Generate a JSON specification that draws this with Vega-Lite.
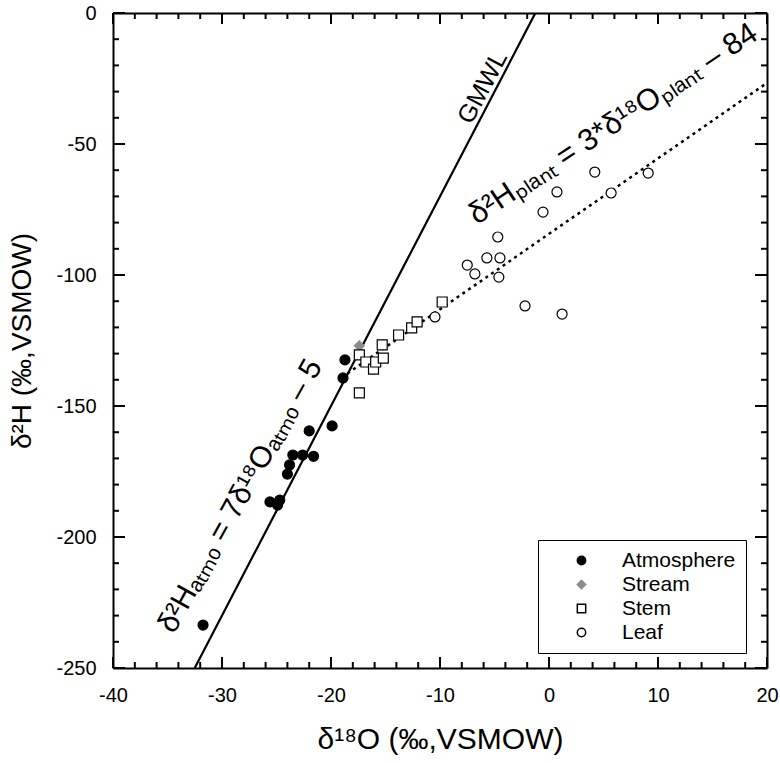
{
  "$schema": "https://vega.github.io/schema/vega-lite/v6.json",
  "width": 654,
  "height": 655,
  "autosize": "none",
  "padding": {"left": 113, "top": 13, "right": 13, "bottom": 95},
  "background": "white",
  "config": {
    "view": {"stroke": null},
    "font": "Liberation Sans",
    "axis": {
      "grid": false,
      "ticks": false,
      "domainColor": "black",
      "domainWidth": 2,
      "labelColor": "black",
      "labelFont": "Liberation Sans",
      "labelFontSize": 20,
      "labelFlush": false,
      "labelOverlap": false,
      "titleFont": "Liberation Sans",
      "titleFontSize": 28,
      "titleFontWeight": "normal",
      "titleColor": "black"
    }
  },
  "datasets": {
    "xmajor": [{"v": -40}, {"v": -30}, {"v": -20}, {"v": -10}, {"v": 0}, {"v": 10}, {"v": 20}],
    "xminor": [{"v": -38}, {"v": -36}, {"v": -34}, {"v": -32}, {"v": -28}, {"v": -26}, {"v": -24}, {"v": -22}, {"v": -18}, {"v": -16}, {"v": -14}, {"v": -12}, {"v": -8}, {"v": -6}, {"v": -4}, {"v": -2}, {"v": 2}, {"v": 4}, {"v": 6}, {"v": 8}, {"v": 12}, {"v": 14}, {"v": 16}, {"v": 18}],
    "ymajor": [{"v": -250}, {"v": -200}, {"v": -150}, {"v": -100}, {"v": -50}, {"v": 0}],
    "yminor": [{"v": -240}, {"v": -230}, {"v": -220}, {"v": -210}, {"v": -190}, {"v": -180}, {"v": -170}, {"v": -160}, {"v": -140}, {"v": -130}, {"v": -120}, {"v": -110}, {"v": -90}, {"v": -80}, {"v": -70}, {"v": -60}, {"v": -40}, {"v": -30}, {"v": -20}, {"v": -10}]
  },
  "resolve": {"axis": {"x": "independent", "y": "independent"}},
  "layer": [
    {
      "data": {"values": [{"o18": -32.5, "h2": -250}, {"o18": -1.25, "h2": 0}]},
      "mark": {"type": "line", "color": "black", "strokeWidth": 2.2, "clip": true},
      "encoding": {
        "x": {
          "field": "o18", "type": "quantitative",
          "scale": {"domain": [-40, 20], "nice": false, "zero": false},
          "axis": {
            "orient": "bottom",
            "title": "δ¹⁸O (‰,VSMOW)",
            "titleFontSize": 30,
            "titlePadding": 19,
            "values": [-40, -30, -20, -10, 0, 10, 20],
            "labelExpr": "'' + datum.value",
            "labelPadding": 17
          }
        },
        "y": {
          "field": "h2", "type": "quantitative",
          "scale": {"domain": [-250, 0], "nice": false, "zero": false},
          "axis": {
            "orient": "left",
            "title": "δ²H (‰,VSMOW)",
            "titlePadding": 19,
            "values": [-250, -200, -150, -100, -50, 0],
            "labelExpr": "'' + datum.value",
            "labelPadding": 17,
            "labelBaseline": "middle"
          }
        }
      }
    },
    {
      "data": {"values": [{"o18": -18.5, "h2": -137.6}, {"o18": 20, "h2": -26.7}]},
      "mark": {"type": "line", "color": "black", "strokeWidth": 2.5, "strokeDash": [3, 4]},
      "encoding": {
        "x": {
          "field": "o18", "type": "quantitative",
          "axis": {"orient": "top", "title": null, "labels": false, "values": [-40, 20]}
        },
        "y": {
          "field": "h2", "type": "quantitative",
          "axis": {"orient": "right", "title": null, "labels": false, "values": [-250, 0]}
        }
      }
    },
    {
      "data": {"name": "xmajor"},
      "mark": {"type": "point", "shape": "M0,-1L0,1", "size": 121, "filled": false, "color": "black", "strokeWidth": 2, "opacity": 1, "yOffset": -5.5},
      "encoding": {"x": {"field": "v", "type": "quantitative", "axis": null}, "y": {"datum": -250, "type": "quantitative", "axis": null}}
    },
    {
      "data": {"name": "xmajor"},
      "mark": {"type": "point", "shape": "M0,-1L0,1", "size": 121, "filled": false, "color": "black", "strokeWidth": 2, "opacity": 1, "yOffset": 5.5},
      "encoding": {"x": {"field": "v", "type": "quantitative", "axis": null}, "y": {"datum": 0, "type": "quantitative", "axis": null}}
    },
    {
      "data": {"name": "xminor"},
      "mark": {"type": "point", "shape": "M0,-1L0,1", "size": 36, "filled": false, "color": "black", "strokeWidth": 2, "opacity": 1, "yOffset": -3},
      "encoding": {"x": {"field": "v", "type": "quantitative", "axis": null}, "y": {"datum": -250, "type": "quantitative", "axis": null}}
    },
    {
      "data": {"name": "xminor"},
      "mark": {"type": "point", "shape": "M0,-1L0,1", "size": 36, "filled": false, "color": "black", "strokeWidth": 2, "opacity": 1, "yOffset": 3},
      "encoding": {"x": {"field": "v", "type": "quantitative", "axis": null}, "y": {"datum": 0, "type": "quantitative", "axis": null}}
    },
    {
      "data": {"name": "ymajor"},
      "mark": {"type": "point", "shape": "M-1,0L1,0", "size": 144, "filled": false, "color": "black", "strokeWidth": 2, "opacity": 1, "xOffset": 6},
      "encoding": {"y": {"field": "v", "type": "quantitative", "axis": null}, "x": {"datum": -40, "type": "quantitative", "axis": null}}
    },
    {
      "data": {"name": "ymajor"},
      "mark": {"type": "point", "shape": "M-1,0L1,0", "size": 144, "filled": false, "color": "black", "strokeWidth": 2, "opacity": 1, "xOffset": -6},
      "encoding": {"y": {"field": "v", "type": "quantitative", "axis": null}, "x": {"datum": 20, "type": "quantitative", "axis": null}}
    },
    {
      "data": {"name": "yminor"},
      "mark": {"type": "point", "shape": "M-1,0L1,0", "size": 36, "filled": false, "color": "black", "strokeWidth": 2, "opacity": 1, "xOffset": 3},
      "encoding": {"y": {"field": "v", "type": "quantitative", "axis": null}, "x": {"datum": -40, "type": "quantitative", "axis": null}}
    },
    {
      "data": {"name": "yminor"},
      "mark": {"type": "point", "shape": "M-1,0L1,0", "size": 36, "filled": false, "color": "black", "strokeWidth": 2, "opacity": 1, "xOffset": -3},
      "encoding": {"y": {"field": "v", "type": "quantitative", "axis": null}, "x": {"datum": 20, "type": "quantitative", "axis": null}}
    },
    {
      "data": {"values": [
        {"o18": -31.74, "h2": -233.6, "type": "Atmosphere"},
        {"o18": -18.72, "h2": -132.4, "type": "Atmosphere"},
        {"o18": -18.9, "h2": -139.3, "type": "Atmosphere"},
        {"o18": -22.0, "h2": -159.5, "type": "Atmosphere"},
        {"o18": -19.9, "h2": -157.6, "type": "Atmosphere"},
        {"o18": -23.5, "h2": -168.7, "type": "Atmosphere"},
        {"o18": -22.6, "h2": -168.7, "type": "Atmosphere"},
        {"o18": -21.6, "h2": -169.2, "type": "Atmosphere"},
        {"o18": -23.8, "h2": -172.5, "type": "Atmosphere"},
        {"o18": -24.0, "h2": -176.0, "type": "Atmosphere"},
        {"o18": -25.6, "h2": -186.6, "type": "Atmosphere"},
        {"o18": -24.7, "h2": -185.9, "type": "Atmosphere"},
        {"o18": -24.9, "h2": -187.8, "type": "Atmosphere"},
        {"o18": -17.4, "h2": -127.0, "type": "Stream"},
        {"o18": -17.4, "h2": -130.5, "type": "Stem"},
        {"o18": -16.8, "h2": -133.2, "type": "Stem"},
        {"o18": -16.1, "h2": -135.9, "type": "Stem"},
        {"o18": -15.9, "h2": -133.2, "type": "Stem"},
        {"o18": -15.2, "h2": -131.7, "type": "Stem"},
        {"o18": -15.3, "h2": -126.7, "type": "Stem"},
        {"o18": -17.4, "h2": -145.0, "type": "Stem"},
        {"o18": -13.8, "h2": -122.9, "type": "Stem"},
        {"o18": -12.6, "h2": -120.2, "type": "Stem"},
        {"o18": -12.1, "h2": -117.9, "type": "Stem"},
        {"o18": -9.8, "h2": -110.3, "type": "Stem"},
        {"o18": -10.46, "h2": -116.0, "type": "Leaf"},
        {"o18": -7.5, "h2": -96.2, "type": "Leaf"},
        {"o18": -6.8, "h2": -99.6, "type": "Leaf"},
        {"o18": -5.7, "h2": -93.5, "type": "Leaf"},
        {"o18": -4.5, "h2": -93.5, "type": "Leaf"},
        {"o18": -4.7, "h2": -85.5, "type": "Leaf"},
        {"o18": -4.6, "h2": -100.8, "type": "Leaf"},
        {"o18": -0.55, "h2": -76.0, "type": "Leaf"},
        {"o18": 0.73, "h2": -68.3, "type": "Leaf"},
        {"o18": 4.2, "h2": -60.7, "type": "Leaf"},
        {"o18": 5.7, "h2": -68.7, "type": "Leaf"},
        {"o18": 9.1, "h2": -61.1, "type": "Leaf"},
        {"o18": -2.2, "h2": -111.8, "type": "Leaf"},
        {"o18": 1.2, "h2": -114.9, "type": "Leaf"}
      ]},
      "mark": {"type": "point", "size": 100, "strokeWidth": 1.2, "opacity": 1},
      "encoding": {
        "x": {"field": "o18", "type": "quantitative", "axis": null},
        "y": {"field": "h2", "type": "quantitative", "axis": null},
        "shape": {
          "field": "type", "type": "nominal",
          "scale": {"domain": ["Atmosphere", "Stream", "Stem", "Leaf"], "range": ["circle", "diamond", "square", "circle"]},
          "legend": {
            "title": null,
            "orient": "none",
            "legendX": 425,
            "legendY": 527,
            "strokeColor": "black",
            "fillColor": "white",
            "padding": 10,
            "symbolOffset": 23,
            "symbolSize": 70,
            "labelFontSize": 21,
            "labelFont": "Liberation Sans",
            "labelOffset": 30,
            "rowPadding": 2,
            "encode": {"labels": {"update": {"fill": {"signal": "datum.value === 'Stream' ? '#999999' : '#000000'"}}}}
          }
        },
        "fill": {
          "field": "type", "type": "nominal",
          "scale": {"domain": ["Atmosphere", "Stream", "Stem", "Leaf"], "range": ["#000000", "#8c8c8c", "#ffffff", "#ffffff"]}
        },
        "stroke": {
          "field": "type", "type": "nominal",
          "scale": {"domain": ["Atmosphere", "Stream", "Stem", "Leaf"], "range": ["#000000", "#8c8c8c", "#000000", "#000000"]}
        }
      }
    },
    {
      "data": {"values": [{"o18": -6.1, "h2": -28.4, "label": "GMWL"}]},
      "mark": {"type": "text", "angle": 298, "fontSize": 25, "font": "Liberation Sans", "color": "black", "align": "center", "baseline": "middle"},
      "encoding": {
        "x": {"field": "o18", "type": "quantitative", "axis": null},
        "y": {"field": "h2", "type": "quantitative", "axis": null},
        "text": {"field": "label"}
      }
    },
    {
      "data": {"values": [{"o18": -28.3, "h2": -184.4, "label": "δ²Hₐₜₘₒ = 7δ¹⁸Oₐₜₘₒ – 5"}]},
      "mark": {"type": "text", "angle": 299, "fontSize": 30, "font": "Liberation Sans", "color": "black", "align": "center", "baseline": "middle"},
      "encoding": {
        "x": {"field": "o18", "type": "quantitative", "axis": null},
        "y": {"field": "h2", "type": "quantitative", "axis": null},
        "text": {"field": "label"}
      }
    },
    {
      "data": {"values": [{"o18": 5.9, "h2": -42.4, "label": "δ²Hₚₗₐₙₜ = 3*δ¹⁸Oₚₗₐₙₜ – 84"}]},
      "mark": {"type": "text", "angle": 326.5, "fontSize": 30.5, "font": "Liberation Sans", "color": "black", "align": "center", "baseline": "middle"},
      "encoding": {
        "x": {"field": "o18", "type": "quantitative", "axis": null},
        "y": {"field": "h2", "type": "quantitative", "axis": null},
        "text": {"field": "label"}
      }
    }
  ]
}
